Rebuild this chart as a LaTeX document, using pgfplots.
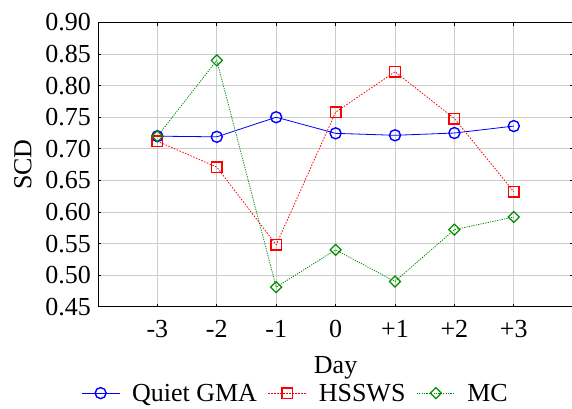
\documentclass[border=0pt]{standalone}
\usepackage{pgfplots}
\pgfplotsset{compat=1.18}
\usepackage{fontspec}
\setmainfont{Liberation Serif}
\definecolor{gmablue}{RGB}{0,0,255}
\definecolor{hred}{RGB}{255,0,0}
\definecolor{mcgreen}{RGB}{0,140,0}
\definecolor{gridgray}{RGB}{205,205,205}
\begin{document}
\fontsize{26}{31}\selectfont
\begin{tikzpicture}
\begin{axis}[
  at={(98pt,101.3pt)}, anchor=south west,
  scale only axis,
  width=475.2pt, height=284.2pt,
  xmin=-4, xmax=4, ymin=0.45, ymax=0.90,
  xtick={-3,-2,-1,0,1,2,3},
  xticklabels={-3,-2,-1,0,+1,+2,+3},
  ytick={0.45,0.50,0.55,0.60,0.65,0.70,0.75,0.80,0.85,0.90},
  yticklabel={\pgfmathprintnumber[fixed,fixed zerofill,precision=2,assume math mode=true]{\tick}},
  xticklabel style={inner sep=0pt, anchor=north, yshift=-13pt},
  yticklabel style={inner sep=0pt, anchor=east, xshift=-7pt},
  tick align=inside,
  major tick length=3pt,
  tick style={black, line width=0.8pt},
  grid=major,
  grid style={gridgray, line width=0.9pt},
  axis line style={black, line width=0.9pt},
  every axis x label/.style={at={(axis description cs:0.5,-0.2346)}, anchor=base},
  every axis y label/.style={at={(axis description cs:-0.158,0.5)}, rotate=90, anchor=center},
  xlabel={Day}, ylabel={SCD},
  legend columns=3,
  legend style={draw=none, fill=none, at={(axis description cs:0.4135,-0.304)}, anchor=center,
    /tikz/every even column/.append style={column sep=11pt},
    /tikz/every odd column/.append style={column sep=12pt},
    nodes={inner sep=0pt, text depth=0pt}},
  legend cell align=left,
  legend image code/.code={
    \draw[#1, mark=none] (0pt,0pt) -- (38pt,0pt);
    \draw[#1, only marks] plot coordinates {(19pt,0pt)};
  },
  clip=false,
]
\addplot[gmablue, line width=0.8pt, mark=o, mark size=5.5pt, mark options={solid, line width=1.4pt}]
  coordinates {(-3,0.720) (-2,0.719) (-1,0.750) (0,0.7245) (1,0.7214) (2,0.725) (3,0.736)};
\addlegendentry{Quiet GMA}
\addplot[hred, line width=0.8pt, dash pattern=on 1.5pt off 1.5pt, mark=square, mark size=5.3pt, mark options={solid, line width=1.4pt}]
  coordinates {(-3,0.712) (-2,0.671) (-1,0.548) (0,0.758) (1,0.822) (2,0.748) (3,0.632)};
\addlegendentry{HSSWS}
\addplot[mcgreen, line width=0.8pt, dash pattern=on 1.2pt off 1.2pt, mark=square, mark size=3.9pt, mark options={solid, rotate=45, line width=1.2pt}]
  coordinates {(-3,0.720) (-2,0.840) (-1,0.481) (0,0.540) (1,0.490) (2,0.572) (3,0.592)};
\addlegendentry{MC}
\end{axis}
\pgfresetboundingbox
\path (0pt,0pt) rectangle (572pt,408pt);
\end{tikzpicture}
\end{document}
